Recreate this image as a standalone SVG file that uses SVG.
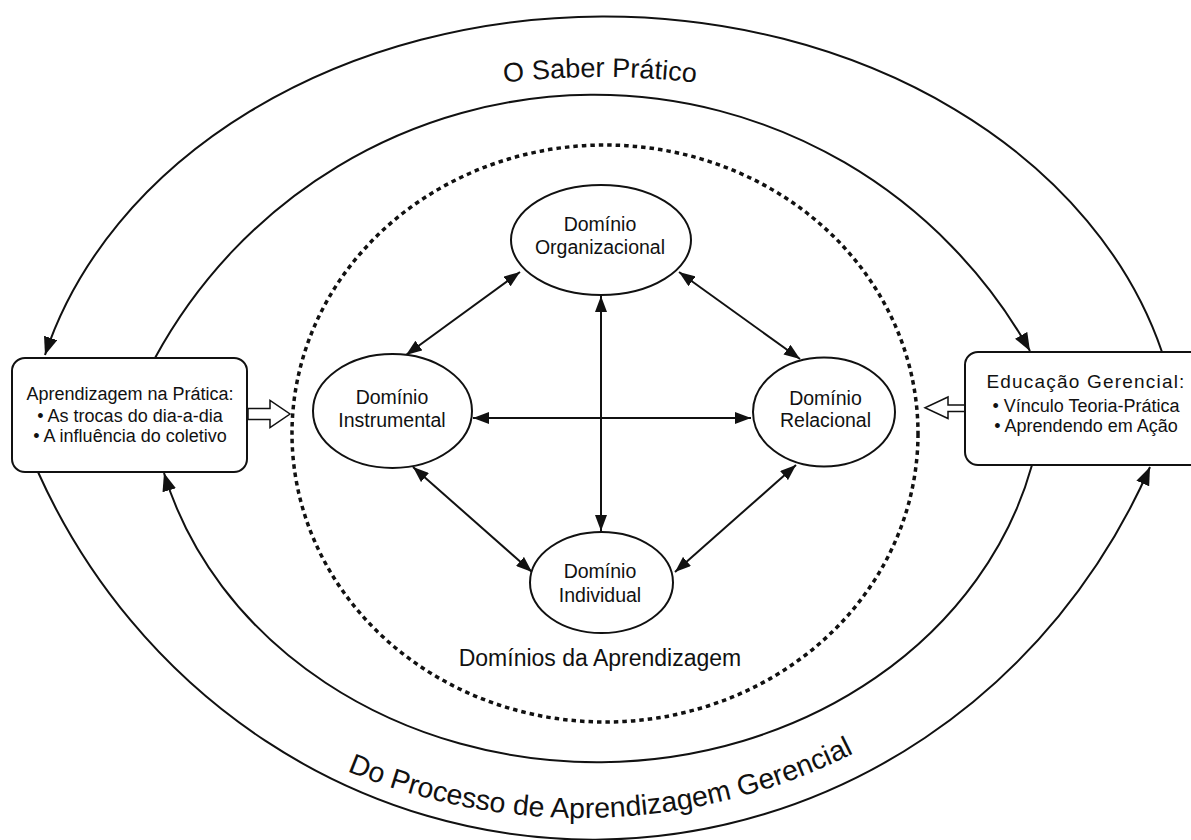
<svg xmlns="http://www.w3.org/2000/svg" width="1191" height="840" viewBox="0 0 1191 840">
<defs>
<style>
.ln{fill:none;stroke:#111;stroke-width:2}
.dl{fill:none;stroke:#111;stroke-width:2;marker-start:url(#ah);marker-end:url(#ah)}
.nd{fill:#fff;stroke:#111;stroke-width:2}
.ho{fill:#fff;stroke:#111;stroke-width:1.5;stroke-linejoin:miter}
.t{font-family:"Liberation Sans",Arial,Helvetica,sans-serif;fill:#111;text-anchor:middle}
.lab{font-size:19.5px}
.bx{font-size:18px}
</style>
<marker id="ah" markerUnits="userSpaceOnUse" markerWidth="16" markerHeight="12" refX="16" refY="6" orient="auto-start-reverse" viewBox="0 0 16 12"><path d="M0,0 L16,6 L0,12 z" fill="#111"/></marker>
<marker id="ahB" markerUnits="userSpaceOnUse" markerWidth="18" markerHeight="14" refX="18" refY="7" orient="auto" viewBox="0 0 18 14"><path d="M0,0 L18,7 L0,14 z" fill="#111"/></marker>
<path id="topTxt" d="M 450 90.8 A 823 823 0 0 1 750 90.8" fill="none"/>
<path id="botTxt" d="M 300 749 A 607 607 0 0 0 900 727.4" fill="none"/>
</defs>
<rect x="0" y="0" width="1191" height="840" fill="#fff"/>

<g id="connectors">
<path class="ln" d="M 1162 352 A 577.5 452 0 0 0 45 355" marker-end="url(#ahB)"/>
<path class="ln" d="M 155 358 A 501.5 508 0 0 1 1030 351" marker-end="url(#ahB)"/>
<path class="ln" d="M 38 472 A 612.6 638 0 0 0 1150 467" marker-end="url(#ahB)"/>
<path class="ln" d="M 1032 465 A 447.6 388 0 0 1 164 473" marker-end="url(#ahB)"/>
<path class="dl" d="M 601 296 L 601 531"/>
<path class="dl" d="M 473 418 L 751 418"/>
<path class="dl" d="M 520 272 L 406 355"/>
<path class="dl" d="M 679 272 L 800 359"/>
<path class="dl" d="M 413 467 L 532 572"/>
<path class="dl" d="M 796 465 L 675 572"/>
<polygon class="ho" points="248,408.5 270,408.5 270,400.5 290,414 270,427.5 270,419.5 248,419.5"/>
<polygon class="ho" points="965,405 948,405 948,397 925,407.8 948,418.5 948,411.5 965,411.5"/>
</g>

<g id="saber-pratico">
<text class="t" font-size="27"><textPath href="#topTxt" startOffset="50%">O Saber Prático</textPath></text>
</g>

<g id="processo">
<text class="t" font-size="28.5" style="text-anchor:start"><textPath href="#botTxt" startOffset="52">Do Processo de Aprendizagem Gerencial</textPath></text>
</g>

<g id="dominios-aprendizagem">
<ellipse cx="605" cy="433.5" rx="313" ry="288.5" fill="none" stroke="#111" stroke-width="3.5" stroke-dasharray="4.5 4"/>
<text class="t" x="600" y="666" font-size="23">Domínios da Aprendizagem</text>
</g>

<g id="aprendizagem-pratica">
<rect class="nd" x="12" y="358" width="235" height="114" rx="13"/>
<text class="t bx" x="130" y="399.5">Aprendizagem na Prática:</text>
<text class="t bx" x="130" y="421.7">• As trocas do dia-a-dia</text>
<text class="t bx" x="130" y="442.3">• A influência do coletivo</text>
</g>

<g id="educacao-gerencial">
<rect class="nd" x="965" y="352" width="245" height="113" rx="13"/>
<text class="t" x="1086" y="388.3" font-size="19" letter-spacing="1.2">Educação Gerencial:</text>
<text class="t bx" x="1086" y="411.7">• Vínculo Teoria-Prática</text>
<text class="t bx" x="1086" y="432.3">• Aprendendo em Ação</text>
</g>

<g id="dominio-organizacional">
<ellipse class="nd" cx="601" cy="240" rx="90" ry="55"/>
<text class="t lab" x="600" y="230.7">Domínio</text>
<text class="t lab" x="600" y="254.3">Organizacional</text>
</g>

<g id="dominio-instrumental">
<ellipse class="nd" cx="392.5" cy="411" rx="79.5" ry="57"/>
<text class="t lab" x="392" y="404.3">Domínio</text>
<text class="t lab" x="392" y="426.7">Instrumental</text>
</g>

<g id="dominio-relacional">
<ellipse class="nd" cx="824" cy="412" rx="71" ry="54.5"/>
<text class="t lab" x="825.5" y="405">Domínio</text>
<text class="t lab" x="825.5" y="427.3">Relacional</text>
</g>

<g id="dominio-individual">
<ellipse class="nd" cx="601.5" cy="582.5" rx="71.5" ry="50.5"/>
<text class="t lab" x="600" y="578.3">Domínio</text>
<text class="t lab" x="600" y="601.7">Individual</text>
</g>
</svg>
